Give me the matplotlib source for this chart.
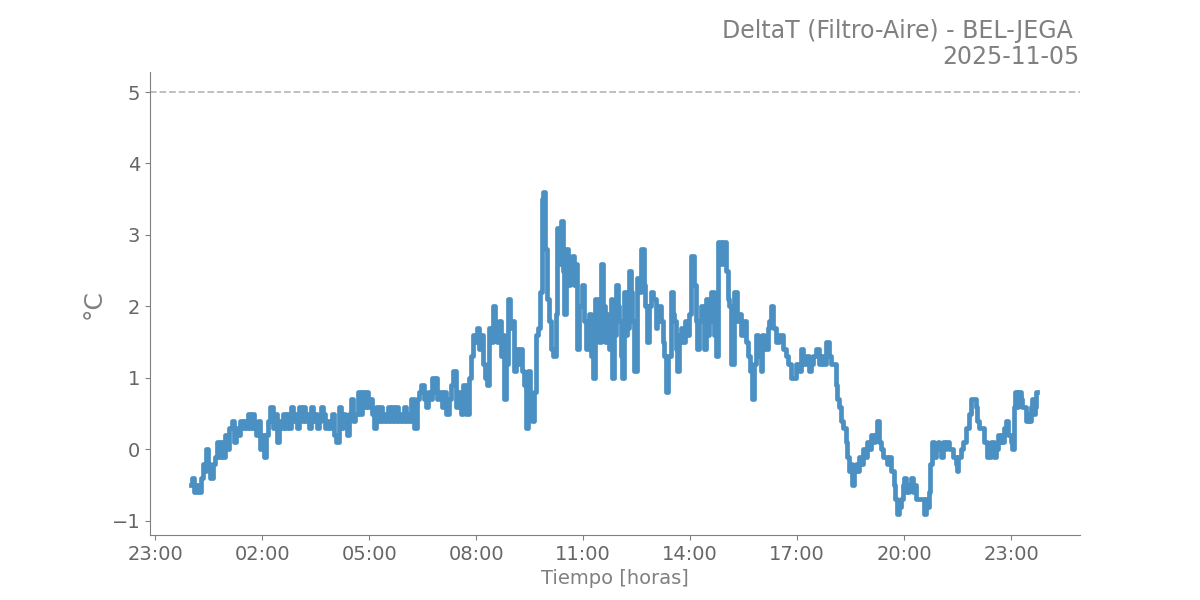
import matplotlib
matplotlib.use("Agg")
import matplotlib.pyplot as plt
import matplotlib.dates as mdates
import pandas as pd

# Datos (minutos desde las 00:00 del 2025-11-05, delta T en °C)
fecha = "2025-11-05"
minutos = [
    0, 3, 7, 12, 15, 19, 22, 25, 27, 30, 35, 39, 42, 45, 49, 52, 56, 59, 62, 66,
    71, 74, 77, 81, 84, 87, 91, 94, 98, 101, 104, 108, 111, 114, 118, 121, 124, 128, 131, 136,
    140, 143, 146, 150, 153, 156, 160, 163, 167, 170, 173, 177, 180, 183, 187, 190, 193, 197, 200, 204,
    207, 210, 214, 217, 220, 224, 227, 230, 234, 239, 242, 246, 251, 254, 257, 261, 264, 267, 271, 274,
    278, 283, 286, 289, 293, 296, 299, 303, 306, 309, 313, 316, 320, 323, 326, 330, 333, 336, 340, 343,
    346, 350, 353, 357, 360, 363, 367, 370, 372, 377, 382, 385, 390, 394, 397, 400, 404, 407, 410, 414,
    415, 420, 424, 427, 432, 436, 439, 444, 449, 452, 456, 461, 466, 469, 473, 476, 479, 483, 486, 489,
    493, 496, 500, 503, 506, 510, 513, 516, 520, 523, 526, 528, 532, 535, 538, 542, 545, 548, 552, 555,
    558, 562, 565, 569, 572, 575, 579, 582, 585, 589, 592, 594, 597, 600, 604, 607, 612, 616, 617, 621,
    624, 627, 629, 632, 636, 639, 643, 646, 649, 651, 656, 659, 663, 666, 669, 671, 674, 678, 683, 686,
    688, 691, 695, 700, 703, 705, 708, 710, 713, 717, 720, 722, 725, 727, 730, 733, 735, 738, 742, 743,
    748, 752, 755, 760, 764, 765, 769, 772, 775, 780, 784, 785, 789, 792, 796, 797, 801, 806, 809, 812,
    814, 817, 819, 823, 826, 828, 833, 836, 839, 844, 848, 851, 853, 856, 860, 865, 868, 871, 873, 878,
    881, 885, 890, 893, 897, 902, 905, 907, 912, 917, 920, 923, 928, 932, 935, 940, 942, 945, 949, 952,
    957, 960, 962, 965, 969, 972, 974, 977, 982, 987, 991, 994, 999, 1002, 1008, 1013, 1016, 1021, 1024, 1028,
    1033, 1038, 1041, 1045, 1050, 1055, 1058, 1061, 1066, 1071, 1075, 1078, 1083, 1087, 1088, 1092, 1095, 1100, 1103, 1105,
    1108, 1112, 1113, 1117, 1120, 1124, 1125, 1129, 1132, 1135, 1139, 1142, 1145, 1149, 1152, 1156, 1159, 1162, 1166, 1169,
    1172, 1176, 1181, 1184, 1187, 1189, 1193, 1196, 1199, 1201, 1204, 1206, 1209, 1213, 1216, 1218, 1221, 1223, 1226, 1231,
    1235, 1238, 1240, 1243, 1245, 1248, 1251, 1255, 1258, 1260, 1263, 1267, 1268, 1273, 1277, 1280, 1285, 1288, 1290, 1293,
    1297, 1302, 1307, 1310, 1314, 1319, 1322, 1325, 1327, 1332, 1336, 1339, 1341, 1344, 1347, 1349, 1352, 1356, 1359, 1361,
    1364, 1366, 1369, 1373, 1376, 1378, 1381, 1383, 1386, 1388, 1391, 1394, 1398, 1399, 1403, 1406, 1410, 1411, 1415, 1416,
    1420, 1421, 1423,
]
delta_t = [
    -0.5, -0.4, -0.6, -0.5, -0.6, -0.4, -0.2, -0.3, 0.0, -0.2, -0.4, -0.2, -0.1, 0.1, -0.1, 0.1, -0.1, 0.2, 0.0, 0.3,
    0.4, 0.1, 0.3, 0.2, 0.4, 0.3, 0.4, 0.3, 0.5, 0.3, 0.5, 0.3, 0.2, 0.4, 0.0, 0.2, -0.1, 0.2, 0.4, 0.6,
    0.3, 0.5, 0.1, 0.4, 0.3, 0.5, 0.3, 0.5, 0.3, 0.6, 0.4, 0.5, 0.3, 0.6, 0.4, 0.6, 0.4, 0.5, 0.3, 0.6,
    0.4, 0.5, 0.3, 0.4, 0.6, 0.5, 0.3, 0.4, 0.3, 0.5, 0.2, 0.1, 0.6, 0.3, 0.5, 0.4, 0.2, 0.5, 0.7, 0.4,
    0.5, 0.8, 0.5, 0.8, 0.6, 0.8, 0.6, 0.7, 0.5, 0.3, 0.6, 0.4, 0.6, 0.4, 0.5, 0.4, 0.6, 0.4, 0.6, 0.4,
    0.6, 0.4, 0.5, 0.4, 0.6, 0.4, 0.5, 0.4, 0.7, 0.3, 0.7, 0.8, 0.9, 0.7, 0.6, 0.8, 0.7, 1.0, 0.8, 1.0,
    0.7, 0.8, 0.6, 0.8, 0.5, 0.7, 0.9, 1.1, 0.6, 0.8, 0.5, 0.9, 0.5, 1.0, 1.3, 1.6, 1.5, 1.7, 1.4, 1.6,
    1.2, 1.0, 0.9, 1.7, 1.5, 2.0, 1.7, 1.5, 1.8, 1.3, 1.6, 0.7, 1.2, 2.1, 1.7, 1.8, 1.1, 1.4, 1.2, 1.4,
    1.1, 0.9, 0.3, 1.1, 0.6, 0.4, 0.8, 1.6, 1.7, 2.2, 3.5, 3.6, 2.8, 2.1, 1.8, 1.4, 1.3, 1.9, 3.1, 2.6,
    3.2, 2.5, 1.9, 2.8, 2.3, 2.6, 2.7, 2.3, 2.6, 1.4, 2.0, 2.3, 1.8, 1.4, 1.8, 1.9, 1.3, 1.0, 2.1, 1.7,
    1.5, 2.6, 2.0, 1.5, 1.9, 1.4, 2.1, 1.0, 1.6, 2.3, 2.0, 1.8, 1.3, 1.0, 2.2, 1.6, 1.7, 2.5, 2.2, 1.8,
    1.1, 2.4, 2.2, 2.8, 2.3, 2.0, 1.5, 2.0, 2.2, 2.1, 1.7, 1.8, 2.0, 1.8, 1.5, 1.3, 0.8, 1.3, 2.2, 1.9,
    1.8, 1.4, 1.1, 1.6, 1.7, 1.5, 1.8, 1.6, 1.9, 2.7, 2.3, 1.8, 1.4, 1.8, 2.0, 1.4, 2.1, 1.6, 1.8, 2.2,
    1.6, 1.3, 2.9, 2.6, 2.9, 2.5, 2.1, 2.0, 1.2, 2.2, 1.8, 1.9, 1.6, 1.8, 1.5, 1.3, 1.1, 0.7, 1.2, 1.6,
    1.3, 1.1, 1.6, 1.4, 1.4, 1.7, 1.8, 2.0, 1.7, 1.5, 1.6, 1.6, 1.4, 1.3, 1.2, 1.0, 1.0, 1.2, 1.1, 1.4,
    1.2, 1.3, 1.1, 1.2, 1.3, 1.4, 1.2, 1.3, 1.2, 1.5, 1.3, 1.2, 1.2, 0.9, 0.7, 0.6, 0.4, 0.3, 0.1, -0.1,
    -0.3, -0.2, -0.5, -0.3, -0.2, -0.3, -0.1, -0.2, 0.0, -0.1, 0.1, 0.0, 0.2, 0.1, 0.2, 0.4, 0.1, 0.0, -0.1, -0.1,
    -0.2, -0.1, -0.3, -0.5, -0.7, -0.9, -0.8, -0.7, -0.5, -0.4, -0.6, -0.6, -0.5, -0.4, -0.6, -0.5, -0.7, -0.7, -0.7, -0.7,
    -0.9, -0.7, -0.8, -0.6, -0.2, 0.1, -0.1, 0.0, 0.1, 0.0, -0.1, 0.1, 0.0, 0.1, 0.0, 0.0, -0.1, -0.2, -0.3, -0.1,
    0.0, 0.1, 0.3, 0.5, 0.7, 0.7, 0.6, 0.4, 0.3, 0.3, 0.1, 0.1, -0.1, -0.1, 0.1, 0.1, -0.1, 0.0, 0.2, 0.1,
    0.2, 0.1, 0.3, 0.4, 0.2, 0.2, 0.1, 0.0, 0.6, 0.8, 0.6, 0.8, 0.7, 0.6, 0.6, 0.4, 0.5, 0.4, 0.6, 0.7,
    0.5, 0.6, 0.8,
]
titulo = "DeltaT (Filtro-Aire) - BEL-JEGA \n" + fecha
umbral = 5

tiempo = pd.to_datetime(fecha) + pd.to_timedelta(minutos, unit="min")

gris = "#808080"
fig = plt.figure(figsize=(12, 6), dpi=100)
ax = fig.add_axes([0.125, 0.108, 0.775, 0.772])

# la serie original es muy densa: linea gruesa y escalonada para parecerse
ax.plot(tiempo, delta_t, color="#4a90c2", linewidth=3.4, drawstyle="steps-mid")
ax.axhline(umbral, color="#bbbbbb", linestyle="--", linewidth=1.3)

ax.set_xlim(pd.Timestamp("2025-11-04 22:51"), pd.Timestamp("2025-11-06 00:56"))
ax.set_ylim(-1.2, 5.28)
ax.xaxis.set_major_locator(mdates.HourLocator(byhour=[23, 2, 5, 8, 11, 14, 17, 20]))
ax.xaxis.set_major_formatter(mdates.DateFormatter("%H:%M"))

for s in ["top", "right"]:
    ax.spines[s].set_visible(False)
for s in ["left", "bottom"]:
    ax.spines[s].set_color(gris)
ax.tick_params(colors="#666666", labelsize=14)
ax.tick_params(axis="both", color=gris)

ax.set_xlabel("Tiempo [horas]", fontsize=14, color=gris)
ax.set_ylabel("°C", fontsize=18, color=gris)
ax.set_title(titulo, loc="right", fontsize=17, color=gris, linespacing=1.1)

fig.savefig("out.png", dpi=100)
